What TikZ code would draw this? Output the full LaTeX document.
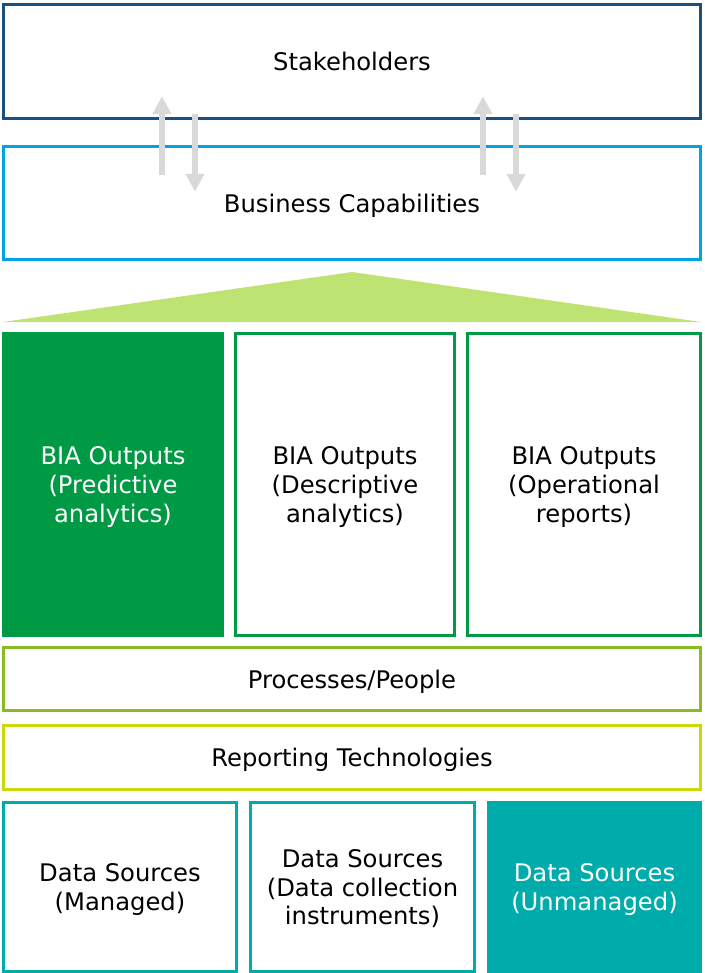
\documentclass[tikz,border=0pt]{standalone}
\usepackage{fontspec}
\setmainfont{DejaVu Sans}
\usetikzlibrary{arrows.meta}
\definecolor{navy}{HTML}{1B4F7E}
\definecolor{sky}{HTML}{00A3E0}
\definecolor{leaf}{HTML}{009A44}
\definecolor{lime}{HTML}{BFE373}
\definecolor{moss}{HTML}{86BC25}
\definecolor{citron}{HTML}{CBD90A}
\definecolor{teal}{HTML}{00ABAB}
\definecolor{arrowgrey}{HTML}{D9D9D9}

\begin{document}
\begin{tikzpicture}[x=0.02cm, y=-0.02cm,
    font=\fontsize{13.8}{16.4}\selectfont,
    blk/.style={draw, line width=1.2pt, align=center, inner sep=2pt, text depth=0pt},
    wide/.style={blk, minimum width=697*0.02cm},
    updn/.style={draw=arrowgrey, line width=3.6pt,
                 -{Triangle[width=11pt, length=10pt, fill=arrowgrey, line width=0pt]}}]

    \useasboundingbox (0,0) rectangle (705,973);

    % ---- Top
    \node[wide, draw=navy, minimum height=114*0.02cm] (stake) at (352,61.5) {Stakeholders};
    \node[wide, draw=sky, minimum height=113*0.02cm] (biz) at (352,203) {Business Capabilities};

    % ---- Roof
    \fill[lime] (3,322) -- (352,272) -- (701,322) -- cycle;

    % ---- BIA outputs
    \node[blk, draw=leaf, fill=leaf, text=white, minimum width=219*0.02cm,
          minimum height=302*0.02cm] (bia1) at (113,484.5) {BIA Outputs\\(Predictive\\analytics)};
    \node[blk, draw=leaf, minimum width=219*0.02cm,
          minimum height=302*0.02cm] (bia2) at (345,484.5) {BIA Outputs\\(Descriptive\\analytics)};
    \node[blk, draw=leaf, minimum width=233*0.02cm,
          minimum height=302*0.02cm] (bia3) at (584,484.5) {BIA Outputs\\(Operational\\reports)};

    % ---- Layers
    \node[wide, draw=moss, minimum height=63*0.02cm] (proc) at (352,679) {Processes/People};
    \node[wide, draw=citron, minimum height=64*0.02cm] (rep) at (352,757.5) {Reporting Technologies};

    % ---- Data sources
    \node[blk, draw=teal, minimum width=233*0.02cm,
          minimum height=169*0.02cm] (ds1) at (120,887) {Data Sources\\(Managed)};
    \node[blk, draw=teal, minimum width=224*0.02cm,
          minimum height=169*0.02cm] (ds2) at (362.5,887) {Data Sources\\(Data collection\\instruments)};
    \node[blk, draw=teal, fill=teal, text=white, minimum width=212*0.02cm,
          minimum height=169*0.02cm] (ds3) at (594.5,887) {Data Sources\\(Unmanaged)};

    % ---- Exchange arrows
    \foreach \dx in {-190,131}
      \draw[updn] ([shift={(\dx,30)}]biz.north) -- ([shift={(\dx,-23)}]stake.south);
    \foreach \dx in {-157,164}
      \draw[updn] ([shift={(\dx,-6)}]stake.south) -- ([shift={(\dx,46)}]biz.north);
  \end{tikzpicture}
\end{document}
